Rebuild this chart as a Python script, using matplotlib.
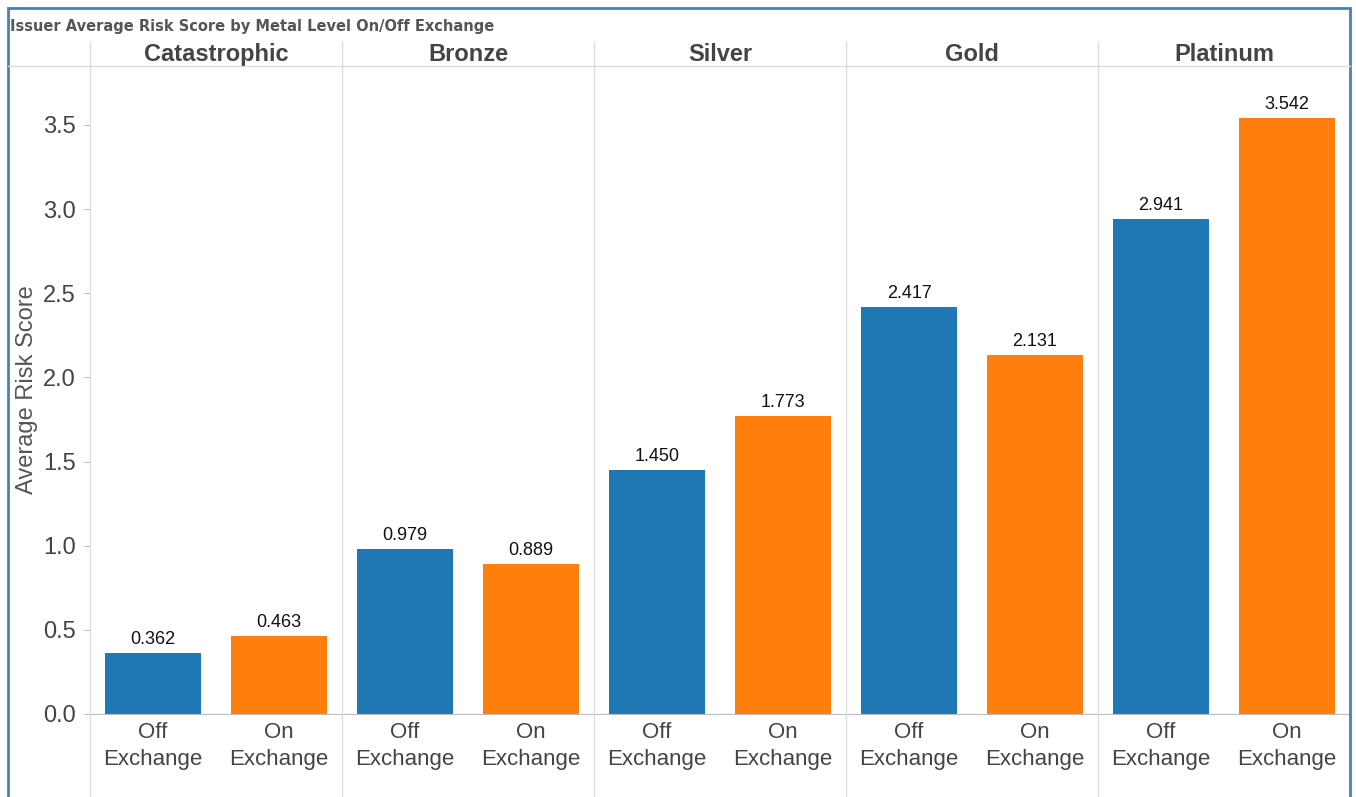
import numpy as np
import matplotlib.pyplot as plt
from matplotlib.lines import Line2D
from matplotlib.patches import Rectangle

plt.rcParams["font.family"] = ["Liberation Sans", "DejaVu Sans"]

metals = ["Catastrophic", "Bronze", "Silver", "Gold", "Platinum"]
exchange = ["Off\nExchange", "On\nExchange"]
off_vals = [0.362, 0.979, 1.450, 2.417, 2.941]
on_vals = [0.463, 0.889, 1.773, 2.131, 3.542]

W, H = 1356, 797
fig = plt.figure(figsize=(W / 100, H / 100), dpi=100)
L, R, B, T = 90, 1350, 714, 66
ax = fig.add_axes([L / W, 1 - B / H, (R - L) / W, (B - T) / H])

n = len(metals)
x_off = np.arange(n) + 0.25
x_on = np.arange(n) + 0.75
bw = 0.38
ax.bar(x_off, off_vals, bw, color="#1f77b4")
ax.bar(x_on, on_vals, bw, color="#ff7f0e")
for x, v in list(zip(x_off, off_vals)) + list(zip(x_on, on_vals)):
    ax.text(x, v + 0.03, f"{v:.3f}", ha="center", va="bottom", fontsize=13, color="#111111")

ax.set_xlim(0, n)
ax.set_ylim(0, (B - T) / 168.3)
ax.set_yticks(np.arange(0, 3.6, 0.5))
ax.set_yticklabels([f"{t:.1f}" for t in np.arange(0, 3.6, 0.5)], fontsize=17, color="#444444")
ax.tick_params(axis="y", length=4, color="#bbbbbb", pad=6)
ax.set_xticks(np.concatenate([x_off, x_on]))
ax.set_xticklabels(exchange[:1] * n + exchange[1:] * n, fontsize=16, color="#444444",
                   linespacing=1.35)
ax.tick_params(axis="x", length=0, pad=6)
ax.set_ylabel("Average Risk Score", fontsize=17, color="#555555", labelpad=4)
for s in ["top", "right"]:
    ax.spines[s].set_visible(False)
ax.spines["bottom"].set_color("#bbbbbb")
ax.spines["left"].set_visible(False)

for i, m in enumerate(metals):
    ax.text(i + 0.5, 1.0, m, transform=ax.get_xaxis_transform(), ha="center", va="bottom",
            fontsize=17, fontweight="bold", color="#444444")

# grid lines around header and panels
fig.add_artist(Line2D([8 / W, R / W], [1 - T / H] * 2, color="#dddddd", lw=1))
for i in range(n):
    px = (L + i * (R - L) / n) / W
    fig.add_artist(Line2D([px, px], [0, 1 - 42 / H], color="#dddddd", lw=1))
fig.add_artist(Rectangle((8 / W, -0.01), (W - 14) / W, 1 - 8 / H + 0.01, fill=False,
                         edgecolor="#4a7ebb", lw=2))
fig.text(10 / W, 1 - 27 / H, "Issuer Average Risk Score by Metal Level On/Off Exchange",
         fontsize=10.5, fontweight="bold", color="#555555", va="center", family="DejaVu Sans")

fig.savefig("out.png", dpi=100)
